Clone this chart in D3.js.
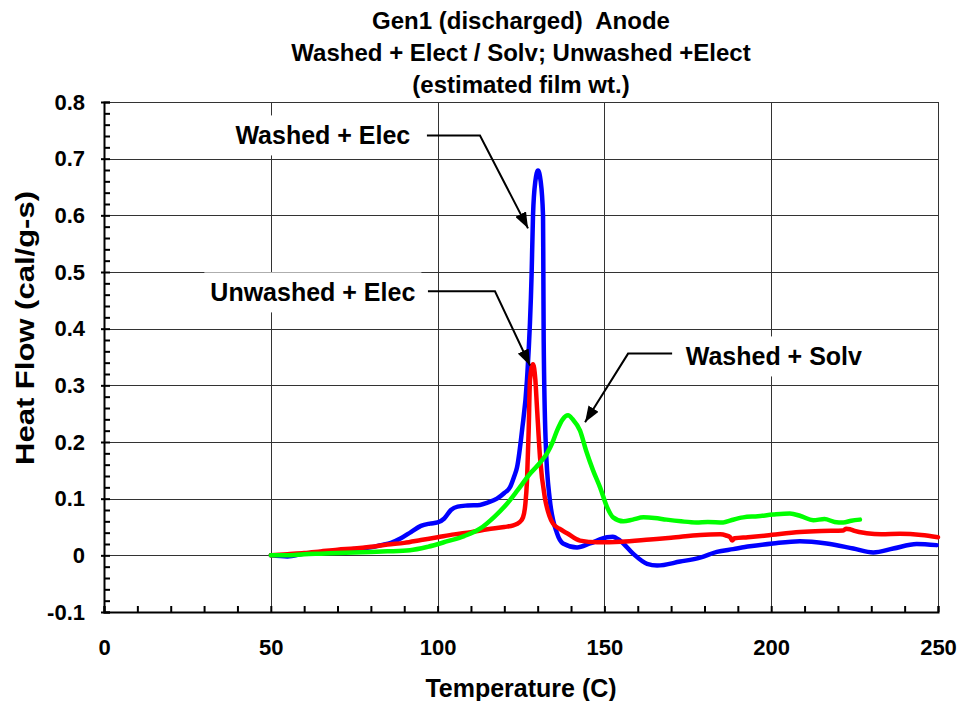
<!DOCTYPE html>
<html>
<head>
<meta charset="utf-8">
<script src="https://cdn.jsdelivr.net/npm/d3@7"></script>
<style>
  body { margin: 0; background: #fff; }
  svg { display: block; font-family: "Liberation Sans", Arial, sans-serif; font-weight: bold; }
</style>
</head>
<body>
<div id="chart"></div>
<script>
const TITLE_LINES = ["Gen1 (discharged)  Anode", "Washed + Elect / Solv; Unwashed +Elect", "(estimated film wt.)"];
const X_LABEL = "Temperature (C)";
const Y_LABEL = "Heat Flow (cal/g-s)";
const X_TICKS = [0, 50, 100, 150, 200, 250];
const Y_TICKS = [-0.1, 0, 0.1, 0.2, 0.3, 0.4, 0.5, 0.6, 0.7, 0.8];

// [temperature, heat flow]
const WASHED_ELEC = [
  [50, 0], [55, -0.002], [60, 0.003], [65, 0.006], [70, 0.008], [75, 0.011], [80, 0.014],
  [83, 0.018], [86, 0.022], [89, 0.03], [92, 0.041], [95, 0.052], [97.7, 0.056], [100, 0.058],
  [102, 0.065], [104, 0.08], [106, 0.086], [109, 0.088], [112.7, 0.089], [115, 0.093],
  [117.8, 0.1], [120, 0.11], [121.7, 0.12], [123, 0.14], [123.8, 0.155], [125.3, 0.22],
  [126.8, 0.31], [128.2, 0.5], [128.6, 0.6], [129.3, 0.66], [130.1, 0.679], [130.9, 0.66],
  [131.6, 0.6], [131.7, 0.5], [131.8, 0.38], [132.4, 0.2], [133.6, 0.1], [135.8, 0.039],
  [137.6, 0.021], [141.8, 0.014], [145.7, 0.021], [150.8, 0.032], [152.5, 0.033],
  [154.7, 0.026], [158.6, 0.003], [162.8, -0.015], [165.8, -0.018], [172.7, -0.011],
  [178.7, -0.004], [183.7, 0.006], [188.6, 0.011], [193.6, 0.016], [200.5, 0.021],
  [208.6, 0.025], [216.6, 0.021], [224.6, 0.012], [230.6, 0.005], [236.6, 0.012],
  [243.6, 0.02], [249.6, 0.018],
];
const UNWASHED_ELEC = [
  [50, 0], [55, 0.002], [60, 0.004], [65, 0.007], [70, 0.01], [75, 0.012], [80, 0.015],
  [85, 0.019], [90, 0.022], [95, 0.027], [100, 0.032], [105, 0.037], [110, 0.041],
  [115, 0.046], [120, 0.05], [122.7, 0.053], [124.5, 0.058], [125.6, 0.067], [126.3, 0.09],
  [126.8, 0.132], [127.3, 0.22], [127.7, 0.31], [128.6, 0.337], [129.3, 0.31], [129.8, 0.26],
  [130.7, 0.173], [132.2, 0.1], [133.5, 0.07], [134.6, 0.056], [136.5, 0.047], [138.8, 0.039],
  [142.7, 0.026], [147.8, 0.023], [155, 0.024], [163.7, 0.028], [170, 0.031], [178.7, 0.036],
  [184.7, 0.037], [186.5, 0.035], [187.7, 0.032], [188.3, 0.026], [189, 0.03], [193, 0.032],
  [198.6, 0.035], [208.6, 0.041], [215, 0.043], [221.6, 0.044], [222.5, 0.047],
  [223.6, 0.046], [225, 0.043], [228.6, 0.039], [233, 0.037], [238.6, 0.038], [245, 0.036],
  [250, 0.032],
];
const WASHED_SOLV = [
  [50, 0], [55, 0], [60, 0.002], [65, 0.003], [70, 0.004], [75, 0.005], [80, 0.006],
  [85, 0.007], [91.7, 0.009], [97, 0.015], [103, 0.025], [108, 0.034], [112.7, 0.047],
  [117, 0.068], [120.8, 0.091], [124, 0.115], [127.7, 0.144], [130.5, 0.162], [132.8, 0.18],
  [134.5, 0.2], [135.8, 0.22], [137.5, 0.24], [139.1, 0.247], [140.5, 0.24], [142.7, 0.22],
  [144.5, 0.185], [146.6, 0.15], [148.7, 0.12], [150.8, 0.085], [152.6, 0.067], [155.7, 0.06],
  [158.5, 0.063], [161.7, 0.067], [165, 0.066], [168.6, 0.063], [173, 0.06], [177.6, 0.058],
  [181, 0.059], [185.6, 0.058], [188, 0.062], [191.6, 0.067], [196, 0.069], [200.6, 0.072],
  [205.6, 0.074], [209, 0.069], [212.6, 0.062], [216, 0.064], [219, 0.059], [221.6, 0.058],
  [224, 0.061], [226.6, 0.063],
];

const SERIES = [
  { name: "Washed + Elec", color: "#0000ff", values: WASHED_ELEC },
  { name: "Unwashed + Elec", color: "#ff0000", values: UNWASHED_ELEC },
  { name: "Washed + Solv", color: "#00ff00", values: WASHED_SOLV },
];

// label centre, then leader line points (start, elbow, arrow tip), in data units
const ANNOTATIONS = [
  { text: "Washed + Elec", at: [65.6, 0.741], path: [[96.8, 0.741], [112.7, 0.741], [127.1, 0.577]] },
  { text: "Unwashed + Elec", at: [62.6, 0.464], path: [[97.1, 0.466], [117.2, 0.466], [127.7, 0.335]] },
  { text: "Washed + Solv", at: [200.8, 0.351], path: [[170.3, 0.356], [157.1, 0.356], [144.2, 0.235]] },
];

const width = 965;
const height = 701;
const margin = { top: 102, right: 27, bottom: 89, left: 104 };
const font = "Liberation Sans, Arial, sans-serif";

const x = d3.scaleLinear().domain([0, 250]).range([margin.left, width - margin.right]);
const y = d3.scaleLinear().domain([-0.1, 0.8]).range([height - margin.bottom, margin.top]);

const svg = d3.select("#chart")
  .append("svg")
  .attr("width", width)
  .attr("height", height);

// grid
svg.append("g")
  .attr("stroke", "#333")
  .attr("stroke-width", 1)
  .call((g) => g.selectAll("line.h")
    .data(Y_TICKS.slice(1))
    .join("line")
    .attr("class", "h")
    .attr("x1", x(0)).attr("x2", x(250))
    .attr("y1", (d) => Math.round(y(d)) + 0.5).attr("y2", (d) => Math.round(y(d)) + 0.5))
  .call((g) => g.selectAll("line.v")
    .data(X_TICKS.slice(1))
    .join("line")
    .attr("class", "v")
    .attr("y1", y(-0.1)).attr("y2", y(0.8))
    .attr("x1", (d) => Math.round(x(d)) + 0.5).attr("x2", (d) => Math.round(x(d)) + 0.5));

// axes with inward minor ticks
svg.append("g")
  .attr("transform", `translate(${x(0)},0)`)
  .call(d3.axisLeft(y).tickValues(d3.range(-0.1, 0.801, 0.02)).tickSize(-6).tickFormat(""))
  .call((g) => g.selectAll("line,path").attr("stroke", "#000").attr("stroke-width", 2));

svg.append("g")
  .attr("transform", `translate(${x(0)},0)`)
  .call(d3.axisLeft(y).tickValues(Y_TICKS).tickSize(3).tickPadding(16)
    .tickFormat((d) => (Math.abs(d) < 1e-9 ? "0" : d.toFixed(1))))
  .call((g) => g.select(".domain").remove())
  .call((g) => g.selectAll("line").attr("stroke", "#000").attr("stroke-width", 2))
  .call((g) => g.selectAll("text")
    .attr("font-size", 22).attr("font-weight", "bold").attr("fill", "#000")
    .attr("font-family", font));

svg.append("g")
  .attr("transform", `translate(0,${y(-0.1)})`)
  .call(d3.axisBottom(x).tickValues(d3.range(0, 251, 10)).tickSize(-6).tickFormat(""))
  .call((g) => g.selectAll("line,path").attr("stroke", "#000").attr("stroke-width", 2));

svg.append("g")
  .attr("transform", `translate(0,${y(-0.1)})`)
  .call(d3.axisBottom(x).tickValues(X_TICKS).tickSize(0).tickPadding(27).tickFormat(d3.format("d")))
  .call((g) => g.select(".domain").remove())
  .call((g) => g.selectAll("text")
    .attr("font-size", 22).attr("font-weight", "bold").attr("fill", "#000")
    .attr("font-family", font));

// series
const line = d3.line()
  .x((d) => x(d[0]))
  .y((d) => y(d[1]))
  .curve(d3.curveMonotoneX);

svg.append("g")
  .attr("fill", "none")
  .attr("stroke-width", 4.5)
  .attr("stroke-linejoin", "round")
  .attr("stroke-linecap", "round")
  .selectAll("path")
  .data(SERIES)
  .join("path")
  .attr("stroke", (d) => d.color)
  .attr("d", (d) => line(d.values));

// annotations
svg.append("defs")
  .append("marker")
  .attr("id", "arrow")
  .attr("markerUnits", "userSpaceOnUse")
  .attr("viewBox", "0 -6 16 12")
  .attr("refX", 16)
  .attr("refY", 0)
  .attr("markerWidth", 16)
  .attr("markerHeight", 12)
  .attr("orient", "auto")
  .append("path")
  .attr("d", "M0,-6L16,0L0,6Z")
  .attr("fill", "#000");

const note = svg.append("g")
  .selectAll("g")
  .data(ANNOTATIONS)
  .join("g");

note.append("rect")
  .attr("fill", "#fff");

note.append("path")
  .attr("fill", "none")
  .attr("stroke", "#000")
  .attr("stroke-width", 2)
  .attr("marker-end", "url(#arrow)")
  .attr("d", (d) => d3.line().x((p) => x(p[0])).y((p) => y(p[1]))(d.path));

note.append("text")
  .attr("x", (d) => x(d.at[0]))
  .attr("y", (d) => y(d.at[1]))
  .attr("dy", "0.35em")
  .attr("text-anchor", "middle")
  .attr("font-size", 25)
  .text((d) => d.text)
  .each(function (d) {
    const b = this.getBBox();
    d3.select(this.parentNode).select("rect")
      .attr("x", b.x - 6)
      .attr("y", y(d.at[1]) - 20)
      .attr("width", b.width + 12)
      .attr("height", 40);
  });

// titles
svg.append("text")
  .attr("text-anchor", "middle")
  .attr("font-size", 24)
  .style("white-space", "pre")
  .selectAll("tspan")
  .data(TITLE_LINES)
  .join("tspan")
  .attr("x", (x(0) + x(250)) / 2)
  .attr("y", (d, i) => 29 + i * 32)
  .text((d) => d);

svg.append("text")
  .attr("x", (x(0) + x(250)) / 2)
  .attr("y", 697)
  .attr("text-anchor", "middle")
  .attr("font-size", 25)
  .text(X_LABEL);

svg.append("text")
  .attr("transform", `translate(34,328) rotate(-90)`)
  .attr("text-anchor", "middle")
  .attr("font-size", 25)
  .attr("textLength", 274)
  .attr("lengthAdjust", "spacingAndGlyphs")
  .text(Y_LABEL);
</script>
</body>
</html>
